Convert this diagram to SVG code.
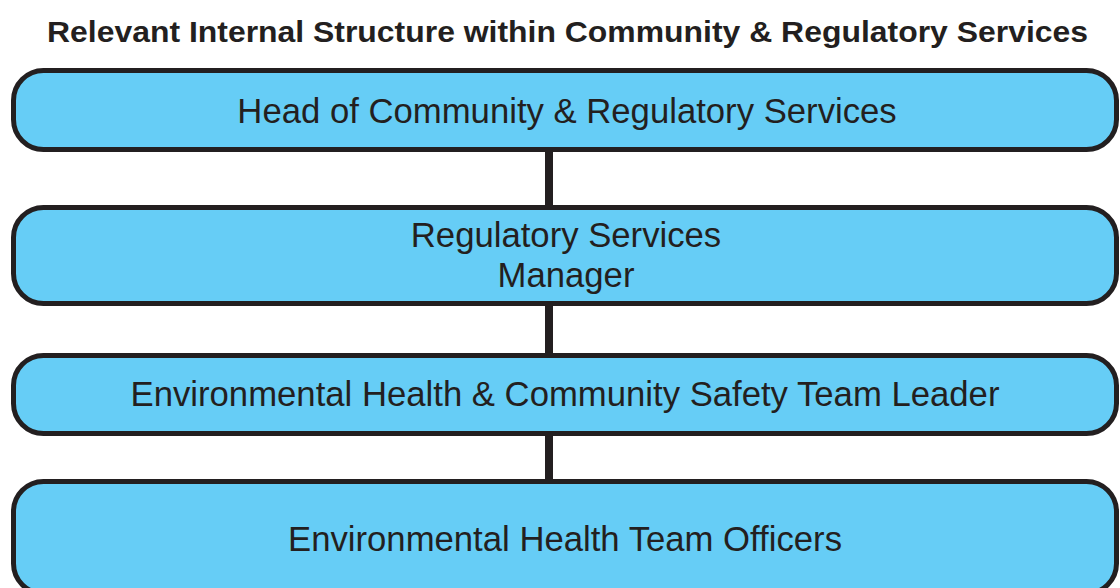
<svg xmlns="http://www.w3.org/2000/svg" width="1120" height="588" viewBox="0 0 1120 588">
  <style>
    .box { fill: #66CDF6; stroke: #231F20; stroke-width: 5; }
    .link { stroke: #231F20; stroke-width: 8; fill: none; }
    .lbl { font-family: "Liberation Sans", Arial, sans-serif; font-size: 34.7px; fill: #231F20; text-anchor: middle; }
    .title { font-family: "Liberation Sans", Arial, sans-serif; font-size: 30px; font-weight: bold; fill: #231F20; text-anchor: middle; }
  </style>
  <rect width="1120" height="588" fill="#FFFFFF"/>
  <text class="title" x="567.5" y="42" textLength="1041" lengthAdjust="spacingAndGlyphs">Relevant Internal Structure within Community &amp; Regulatory Services</text>

  <g id="connectors">
    <line class="link" x1="549" y1="150" x2="549" y2="208"/>
    <line class="link" x1="549" y1="304" x2="549" y2="356"/>
    <line class="link" x1="549" y1="434" x2="549" y2="482"/>
  </g>

  <g id="head">
    <rect class="box" x="13.5" y="70.5" width="1103" height="79" rx="30" ry="30"/>
    <text class="lbl" x="567" y="123">Head of Community &amp; Regulatory Services</text>
  </g>

  <g id="manager">
    <rect class="box" x="13.5" y="207.5" width="1103" height="96" rx="30" ry="30"/>
    <text class="lbl" x="566" y="247">Regulatory Services</text>
    <text class="lbl" x="566" y="287">Manager</text>
  </g>

  <g id="team-leader">
    <rect class="box" x="13.5" y="355.5" width="1103" height="78" rx="30" ry="30"/>
    <text class="lbl" x="565" y="406">Environmental Health &amp; Community Safety Team Leader</text>
  </g>

  <g id="officers">
    <rect class="box" x="13.5" y="481.5" width="1103" height="112" rx="30" ry="30"/>
    <text class="lbl" x="565" y="551">Environmental Health Team Officers</text>
  </g>
</svg>
